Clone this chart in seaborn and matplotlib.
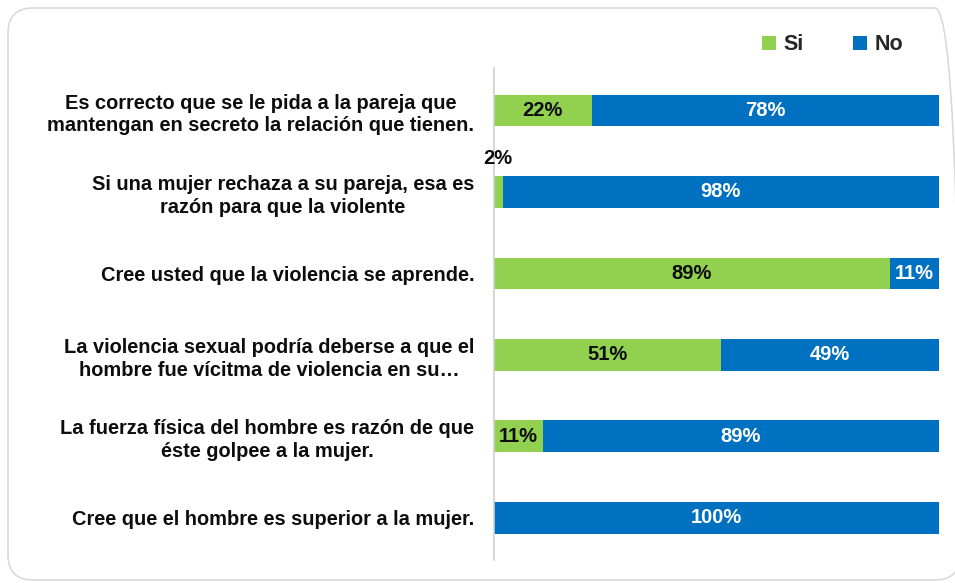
import matplotlib
matplotlib.use("Agg")
import matplotlib.pyplot as plt
import seaborn as sns
import pandas as pd
from matplotlib.patches import FancyBboxPatch
from matplotlib.lines import Line2D

categories = [
    "Es correcto que se le pida a la pareja que\nmantengan en secreto la relación que tienen.",
    "Si una mujer rechaza a su pareja, esa es\nrazón para que la violente",
    "Cree usted que la violencia se aprende.",
    "La violencia sexual podría deberse a que el\nhombre fue vícitma de violencia en su…",
    "La fuerza física del hombre es razón de que\néste golpee a la mujer.",
    "Cree que el hombre es superior a la mujer.",
]
si_values = [22, 2, 89, 51, 11, 0]
no_values = [78, 98, 11, 49, 89, 100]
series_names = ["Si", "No"]

GREEN = "#92D050"
BLUE = "#0070C0"
FONT = ["Liberation Sans", "DejaVu Sans"]
FS = 14.4
VFS = 14.5

sns.set_theme(style="white")
plt.rcParams["font.family"] = FONT
plt.rcParams["font.weight"] = "bold"

df = pd.DataFrame({"cat": categories, "Si": si_values, "No": no_values})
df["Total"] = df["Si"] + df["No"]

fig = plt.figure(figsize=(9.55, 5.83), dpi=100)
ax = fig.add_axes([0.517, 0.0395, 0.466, 0.8435])

sns.barplot(data=df, y="cat", x="Total", color=BLUE, orient="h", width=0.39,
            ax=ax, saturation=1, linewidth=0)
sns.barplot(data=df, y="cat", x="Si", color=GREEN, orient="h", width=0.39,
            ax=ax, saturation=1, linewidth=0)

ax.set_xlim(0, 100)
ax.set_ylim(5.52, -0.52)
ax.set_xlabel("")
ax.set_ylabel("")
ax.set_xticks([])
for s in ["top", "right", "bottom"]:
    ax.spines[s].set_visible(False)
ax.spines["left"].set_color("#d0d0d0")
ax.spines["left"].set_linewidth(1.2)
ax.tick_params(axis="y", length=0, pad=14)
ax.set_yticks(range(len(categories)))
ax.set_yticklabels(categories, fontsize=FS, fontweight="bold", color="#0d0d0d",
                   multialignment="center", linespacing=1.25)

# value labels
for i, (s, n) in enumerate(zip(si_values, no_values)):
    if s > 0:
        if s >= 5:
            ax.text(s / 2, i, f"{s}%", ha="center", va="center", fontsize=VFS,
                    fontweight="bold", color="#0d0d0d")
        else:
            ax.text(s / 2, i - 0.3, f"{s}%", ha="center", va="bottom", fontsize=VFS,
                    fontweight="bold", color="#0d0d0d")
    if n > 0:
        ax.text(s + n / 2, i, f"{n}%", ha="center", va="center", fontsize=VFS,
                fontweight="bold", color="white")

handles = [Line2D([0], [0], marker="s", linestyle="", markersize=10,
                  markerfacecolor=c, markeredgewidth=0) for c in (GREEN, BLUE)]
fig.legend(handles, series_names, loc="center", bbox_to_anchor=(0.868, 0.923),
           ncol=2, frameon=False, handletextpad=0.0, columnspacing=2.0,
           handlelength=1.3, prop={"weight": "bold", "size": 15.5, "family": FONT})

border = FancyBboxPatch((0.08, 0.03), 9.52, 5.72,
                        boxstyle="round,pad=0,rounding_size=0.25",
                        transform=fig.dpi_scale_trans, facecolor="none",
                        edgecolor="#d9d9d9", linewidth=1.2)
fig.patches.append(border)

fig.savefig("out.png", dpi=100, facecolor="white")
